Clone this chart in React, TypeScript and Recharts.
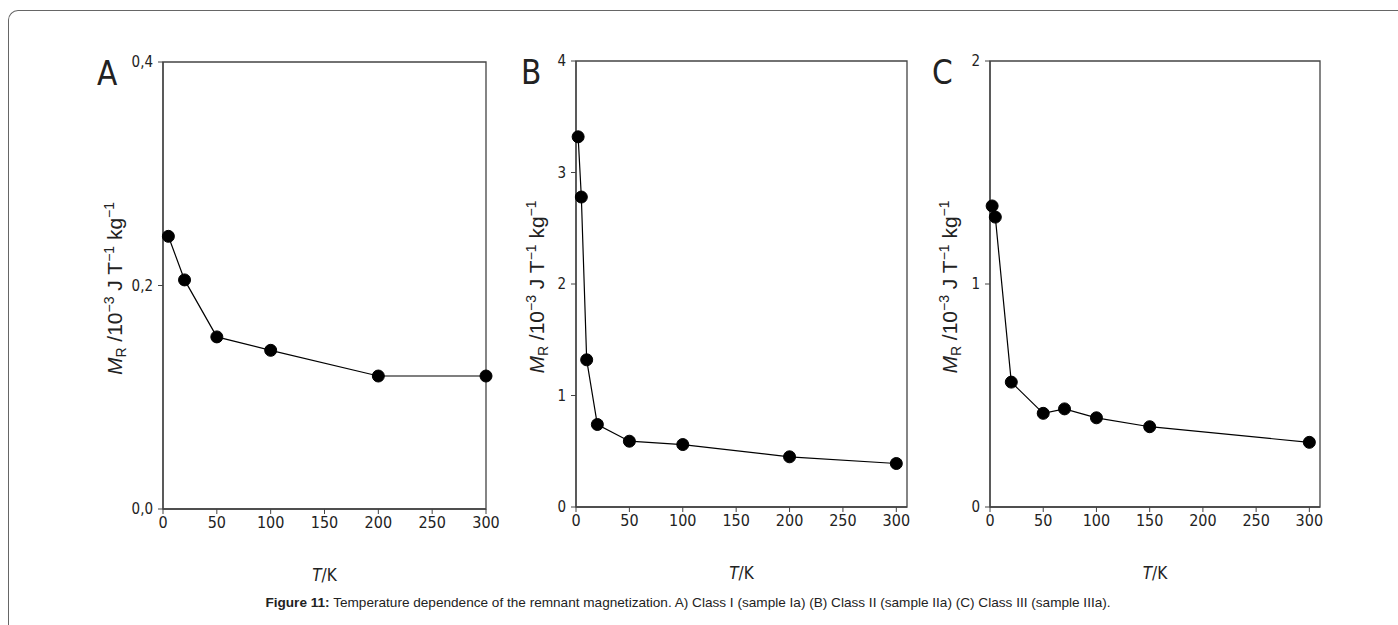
import { LineChart, Line, XAxis, YAxis, ReferenceArea } from "recharts";

// T in K, remnant magnetization in 10^-3 J T^-1 kg^-1
const tempA = [5, 20, 50, 100, 200, 300];
const magA = [0.244, 0.205, 0.154, 0.142, 0.119, 0.119];

const tempB = [2, 5, 10, 20, 50, 100, 200, 300];
const magB = [3.32, 2.78, 1.32, 0.74, 0.59, 0.56, 0.45, 0.39];

const tempC = [2, 5, 20, 50, 70, 100, 150, 300];
const magC = [1.35, 1.3, 0.56, 0.42, 0.44, 0.4, 0.36, 0.29];

const tempTicks = [0, 50, 100, 150, 200, 250, 300];
const ticksA = [0, 0.2, 0.4];
const ticksB = [0, 1, 2, 3, 4];
const ticksC = [0, 1, 2];

const caption =
  "Temperature dependence of the remnant magnetization. A) Class I (sample Ia) (B) Class II (sample IIa) (C) Class III (sample IIIa).";

const W = 1398;
const H = 625;
const Y_AXIS_W = 60;
const X_AXIS_H = 40;
const NARROW = "'Liberation Sans Narrow', 'DejaVu Sans Condensed', 'Liberation Sans', Arial, sans-serif";
const SANS = "'Liberation Sans', Arial, Helvetica, sans-serif";
const INK = "#222";
const AXIS = "#444";

interface PanelCfg {
  letter: string;
  left: number;
  top: number;
  right: number;
  bottom: number;
  xMax: number;
  yMax: number;
  yTicks: number[];
  fmt: (v: number) => string;
  titleX: number;
  letterX: number;
}

const comma = (v: number) => v.toFixed(1).replace(".", ",");
const plain = (v: number) => String(v);

const YTitle = ({ cfg }: { cfg: PanelCfg }) => {
  const cy = (cfg.top + cfg.bottom) / 2 + 3;
  const bx = cfg.titleX;
  return (
    <g>
      <text
        x={cfg.letterX}
        y={cfg.top + 23}
        fontFamily={NARROW}
        fontSize={33}
        fill={INK}
      >
        {cfg.letter}
      </text>
      <text
        x={bx}
        y={cy}
        transform={`rotate(-90 ${bx} ${cy})`}
        textAnchor="middle"
        fontFamily={SANS}
        fontSize={21}
        fill={INK}
      >
        <tspan fontStyle="italic">M</tspan>
        <tspan fontSize={14} dy={4}>R</tspan>
        <tspan dy={-4}> /10</tspan>
        <tspan fontSize={14} dy={-8}>−3</tspan>
        <tspan dy={8}> J T</tspan>
        <tspan fontSize={14} dy={-8}>−1</tspan>
        <tspan dy={8}> kg</tspan>
        <tspan fontSize={14} dy={-8}>−1</tspan>
      </text>
    </g>
  );
};

const XTitle = ({ cfg }: { cfg: PanelCfg }) => (
  <text
    x={(cfg.left + cfg.right) / 2}
    y={cfg.bottom + 72}
    textAnchor="middle"
    fontFamily={NARROW}
    fontSize={17}
    fill={INK}
  >
    <tspan fontStyle="italic">T</tspan>/K
  </text>
);

function Panel({ cfg, temps, values }: { cfg: PanelCfg; temps: number[]; values: number[] }) {
  const data = temps.map((t, i) => ({ t, m: values[i] }));
  return (
    <div style={{ position: "absolute", left: 0, top: 0 }}>
      <LineChart
        width={W}
        height={H}
        data={data}
        margin={{
          top: cfg.top,
          left: cfg.left - Y_AXIS_W,
          right: W - cfg.right,
          bottom: H - cfg.bottom - X_AXIS_H,
        }}
      >
        <XAxis
          type="number"
          dataKey="t"
          domain={[0, cfg.xMax]}
          ticks={tempTicks}
          height={X_AXIS_H}
          tickSize={5}
          tickMargin={3}
          axisLine={{ stroke: AXIS, strokeWidth: 1.3 }}
          tickLine={{ stroke: AXIS }}
          tick={{ fontFamily: NARROW, fontSize: 16, fill: INK }}
          label={{ content: () => <XTitle cfg={cfg} /> }}
        />
        <YAxis
          type="number"
          domain={[0, cfg.yMax]}
          ticks={cfg.yTicks}
          width={Y_AXIS_W}
          tickSize={5}
          tickMargin={5}
          tickFormatter={cfg.fmt}
          axisLine={{ stroke: AXIS, strokeWidth: 1.3 }}
          tickLine={{ stroke: AXIS }}
          tick={{ fontFamily: NARROW, fontSize: 15, fill: INK }}
          label={{ content: () => <YTitle cfg={cfg} /> }}
        />
        <ReferenceArea
          x1={0}
          x2={cfg.xMax}
          y1={0}
          y2={cfg.yMax}
          fill="none"
          stroke={AXIS}
          strokeWidth={1.3}
          ifOverflow="visible"
        />
        <Line
          type="linear"
          dataKey="m"
          stroke="#000"
          strokeWidth={1.2}
          dot={{ r: 6, fill: "#000", stroke: "#000", strokeWidth: 1 }}
          isAnimationActive={false}
        />
      </LineChart>
    </div>
  );
}

const panelA: PanelCfg = {
  letter: "A", left: 163, top: 62, right: 486, bottom: 509,
  xMax: 300, yMax: 0.4, yTicks: ticksA, fmt: comma, titleX: 122, letterX: 97,
};
const panelB: PanelCfg = {
  letter: "B", left: 576, top: 61, right: 907, bottom: 507,
  xMax: 310, yMax: 4, yTicks: ticksB, fmt: plain, titleX: 544, letterX: 521,
};
const panelC: PanelCfg = {
  letter: "C", left: 990, top: 61, right: 1320, bottom: 507,
  xMax: 310, yMax: 2, yTicks: ticksC, fmt: plain, titleX: 957, letterX: 932,
};

export default function App() {
  return (
    <div
      style={{
        position: "absolute",
        left: 0,
        top: 0,
        width: W,
        height: H,
        overflow: "hidden",
        background: "#fff",
      }}
    >
      <div
        style={{
          position: "absolute",
          left: 8,
          top: 10,
          width: W,
          height: H,
          borderLeft: "1.5px solid #666",
          borderTop: "1.5px solid #666",
          borderTopLeftRadius: 10,
        }}
      />
      <Panel cfg={panelA} temps={tempA} values={magA} />
      <Panel cfg={panelB} temps={tempB} values={magB} />
      <Panel cfg={panelC} temps={tempC} values={magC} />
      <div
        style={{
          position: "absolute",
          left: 188,
          top: 595,
          width: 1000,
          textAlign: "center",
          fontFamily: SANS,
          fontSize: 13.6,
          lineHeight: "16px",
          color: INK,
        }}
      >
        <b>Figure 11:</b> {caption}
      </div>
    </div>
  );
}
